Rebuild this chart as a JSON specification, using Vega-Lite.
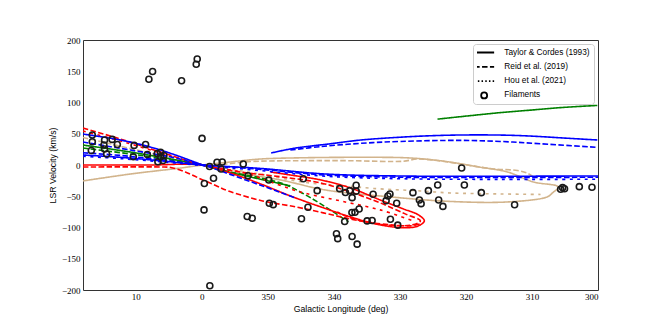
{
  "$schema": "https://vega.github.io/schema/vega-lite/v6.json",
  "width": 515,
  "height": 250,
  "autosize": {"type": "none"},
  "padding": {"left": 83, "top": 40, "right": 66, "bottom": 42},
  "background": "white",
  "config": {
    "view": {"stroke": "#333", "strokeWidth": 1},
    "axis": {
      "grid": false,
      "ticks": false,
      "domain": false,
      "labelFont": "Liberation Serif",
      "labelFontSize": 9,
      "labelColor": "#000",
      "titleFont": "Liberation Sans",
      "titleFontSize": 8.7,
      "titleFontWeight": "normal",
      "titleColor": "#000"
    },
    "legend": {
      "title": null,
      "orient": "top-right",
      "offset": 4,
      "fillColor": "white",
      "strokeColor": "#cccccc",
      "cornerRadius": 3,
      "padding": 4,
      "labelFont": "Liberation Sans",
      "labelFontSize": 8.3,
      "labelColor": "#000",
      "rowPadding": 4.3,
      "clipHeight": 9,
      "symbolSize": 36,
      "symbolStrokeColor": "black",
      "symbolStrokeWidth": 1.8,
      "symbolOffset": 3,
      "labelOffset": 16
    }
  },
  "datasets": {
    "lines": [
      {"s":"T1","a":"tan","m":"TC","i":0,"l":18,"v":-25.5},
      {"s":"T1","a":"tan","m":"TC","i":1,"l":10.8,"v":-14.4},
      {"s":"T1","a":"tan","m":"TC","i":2,"l":3.2,"v":-4.8},
      {"s":"T1","a":"tan","m":"TC","i":3,"l":-0.1,"v":0},
      {"s":"T1","a":"tan","m":"TC","i":4,"l":-4.3,"v":4.8},
      {"s":"T1","a":"tan","m":"TC","i":5,"l":-8.9,"v":9.6},
      {"s":"T1","a":"tan","m":"TC","i":6,"l":-14.9,"v":11.5},
      {"s":"T1","a":"tan","m":"TC","i":7,"l":-24,"v":12.3},
      {"s":"T1","a":"tan","m":"TC","i":8,"l":-31.6,"v":11.2},
      {"s":"T1","a":"tan","m":"TC","i":9,"l":-37.2,"v":5.3},
      {"s":"T1","a":"tan","m":"TC","i":10,"l":-41.7,"v":-2.7},
      {"s":"T1","a":"tan","m":"TC","i":11,"l":-46.3,"v":-11.2},
      {"s":"T1","a":"tan","m":"TC","i":12,"l":-50.2,"v":-27.1},
      {"s":"T1","a":"tan","m":"TC","i":13,"l":-54,"v":-35.1},
      {"s":"T1","a":"tan","m":"TC","i":14,"l":-53.1,"v":-44.7},
      {"s":"T1","a":"tan","m":"TC","i":15,"l":-52.3,"v":-51.1},
      {"s":"T1","a":"tan","m":"TC","i":16,"l":-46.3,"v":-59.1},
      {"s":"T1","a":"tan","m":"TC","i":17,"l":-37.6,"v":-58.3},
      {"s":"T1","a":"tan","m":"TC","i":18,"l":-28.6,"v":-51.1},
      {"s":"T1","a":"tan","m":"TC","i":19,"l":-18.7,"v":-39.9},
      {"s":"T1","a":"tan","m":"TC","i":20,"l":-11.9,"v":-23.9},
      {"s":"T1","a":"tan","m":"TC","i":21,"l":-4.6,"v":-11.2},

      {"s":"T2","a":"tan","m":"R","i":0,"l":18,"v":44},
      {"s":"T2","a":"tan","m":"R","i":1,"l":9,"v":22},
      {"s":"T2","a":"tan","m":"R","i":2,"l":-0.1,"v":0},
      {"s":"T2","a":"tan","m":"R","i":3,"l":-7.4,"v":5.6},
      {"s":"T2","a":"tan","m":"R","i":4,"l":-14.9,"v":6.9},
      {"s":"T2","a":"tan","m":"R","i":5,"l":-22.5,"v":6.9},
      {"s":"T2","a":"tan","m":"R","i":6,"l":-30.5,"v":6},
      {"s":"T2","a":"tan","m":"R","i":7,"l":-32.5,"v":9.5},
      {"s":"T2","a":"tan","m":"R","i":8,"l":-35,"v":8},
      {"s":"T2","a":"tan","m":"R","i":9,"l":-39.2,"v":1.6},
      {"s":"T2","a":"tan","m":"R","i":10,"l":-44.2,"v":-6.4},
      {"s":"T2","a":"tan","m":"R","i":11,"l":-47.8,"v":-8.8},
      {"s":"T2","a":"tan","m":"R","i":12,"l":-49.4,"v":-13.6},
      {"s":"T2","a":"tan","m":"R","i":13,"l":-50.2,"v":-19.2},

      {"s":"T3","a":"tan","m":"H","i":0,"l":-0.1,"v":0},
      {"s":"T3","a":"tan","m":"H","i":1,"l":-5.1,"v":-8},
      {"s":"T3","a":"tan","m":"H","i":2,"l":-9.6,"v":-16},
      {"s":"T3","a":"tan","m":"H","i":3,"l":-15.7,"v":-27.9},
      {"s":"T3","a":"tan","m":"H","i":4,"l":-21,"v":-32.7},
      {"s":"T3","a":"tan","m":"H","i":5,"l":-26,"v":-37.5},
      {"s":"T3","a":"tan","m":"H","i":6,"l":-33.1,"v":-41.5},
      {"s":"T3","a":"tan","m":"H","i":7,"l":-37.6,"v":-44.7},
      {"s":"T3","a":"tan","m":"H","i":8,"l":-45.2,"v":-46.3},
      {"s":"T3","a":"tan","m":"H","i":9,"l":-51.3,"v":-47.1},

      {"s":"G1","a":"green","m":"TC","i":0,"l":-35.7,"v":73.4},
      {"s":"G1","a":"green","m":"TC","i":1,"l":-40.7,"v":79},
      {"s":"G1","a":"green","m":"TC","i":2,"l":-45.2,"v":83.8},
      {"s":"G1","a":"green","m":"TC","i":3,"l":-49.8,"v":87.8},
      {"s":"G1","a":"green","m":"TC","i":4,"l":-54.3,"v":91.8},
      {"s":"G1","a":"green","m":"TC","i":5,"l":-59.9,"v":95.3},

      {"s":"G2","a":"green","m":"TC","i":0,"l":18,"v":31.9},
      {"s":"G2","a":"green","m":"TC","i":1,"l":10.8,"v":20.7},
      {"s":"G2","a":"green","m":"TC","i":2,"l":4.7,"v":9.6},
      {"s":"G2","a":"green","m":"TC","i":3,"l":-0.1,"v":0},
      {"s":"G2","a":"green","m":"TC","i":4,"l":-2.8,"v":-8},
      {"s":"G2","a":"green","m":"TC","i":5,"l":-7.4,"v":-19.2},
      {"s":"G2","a":"green","m":"TC","i":6,"l":-13.4,"v":-33.5},

      {"s":"G3","a":"green","m":"R","i":0,"l":18,"v":27.1},
      {"s":"G3","a":"green","m":"R","i":1,"l":10.8,"v":17.6},
      {"s":"G3","a":"green","m":"R","i":2,"l":4.7,"v":8},
      {"s":"G3","a":"green","m":"R","i":3,"l":-0.1,"v":0},
      {"s":"G3","a":"green","m":"R","i":4,"l":-4.3,"v":-11.2},
      {"s":"G3","a":"green","m":"R","i":5,"l":-8.9,"v":-20.7},
      {"s":"G3","a":"green","m":"R","i":6,"l":-12.4,"v":-30.3},
      {"s":"G3","a":"green","m":"R","i":7,"l":-14.9,"v":-43.1},
      {"s":"G3","a":"green","m":"R","i":8,"l":-18,"v":-62.2},
      {"s":"G3","a":"green","m":"R","i":9,"l":-22.2,"v":-91},

      {"s":"R1","a":"red","m":"TC","i":0,"l":18,"v":0},
      {"s":"R1","a":"red","m":"TC","i":1,"l":7.8,"v":0},
      {"s":"R1","a":"red","m":"TC","i":2,"l":-0.1,"v":0},
      {"s":"R1","a":"red","m":"TC","i":3,"l":-4.3,"v":-12.8},
      {"s":"R1","a":"red","m":"TC","i":4,"l":-8.9,"v":-30.3},
      {"s":"R1","a":"red","m":"TC","i":5,"l":-13.4,"v":-49.5},
      {"s":"R1","a":"red","m":"TC","i":6,"l":-18,"v":-67},
      {"s":"R1","a":"red","m":"TC","i":7,"l":-22.5,"v":-83},
      {"s":"R1","a":"red","m":"TC","i":8,"l":-27,"v":-95.8},
      {"s":"R1","a":"red","m":"TC","i":9,"l":-30.8,"v":-100.5},
      {"s":"R1","a":"red","m":"TC","i":10,"l":-32.8,"v":-97.4},
      {"s":"R1","a":"red","m":"TC","i":11,"l":-33.7,"v":-89.4},
      {"s":"R1","a":"red","m":"TC","i":12,"l":-32.8,"v":-79.8},
      {"s":"R1","a":"red","m":"TC","i":13,"l":-30.5,"v":-70.2},
      {"s":"R1","a":"red","m":"TC","i":14,"l":-27,"v":-55.9},
      {"s":"R1","a":"red","m":"TC","i":15,"l":-22.5,"v":-36.7},
      {"s":"R1","a":"red","m":"TC","i":16,"l":-18,"v":-23.9},
      {"s":"R1","a":"red","m":"TC","i":17,"l":-13.4,"v":-16},
      {"s":"R1","a":"red","m":"TC","i":18,"l":-10.4,"v":-11.2},

      {"s":"R2","a":"red","m":"R","i":0,"l":18,"v":59.1},
      {"s":"R2","a":"red","m":"R","i":1,"l":12.3,"v":41.5},
      {"s":"R2","a":"red","m":"R","i":2,"l":6.25,"v":20.7},
      {"s":"R2","a":"red","m":"R","i":3,"l":-0.1,"v":0},
      {"s":"R2","a":"red","m":"R","i":4,"l":-5.9,"v":-11.2},
      {"s":"R2","a":"red","m":"R","i":5,"l":-12.2,"v":-19.2},
      {"s":"R2","a":"red","m":"R","i":6,"l":-18,"v":-28.7},
      {"s":"R2","a":"red","m":"R","i":7,"l":-22.5,"v":-43.1},
      {"s":"R2","a":"red","m":"R","i":8,"l":-27,"v":-60.6},
      {"s":"R2","a":"red","m":"R","i":9,"l":-30.8,"v":-78.2},
      {"s":"R2","a":"red","m":"R","i":10,"l":-33.1,"v":-89.4},
      {"s":"R2","a":"red","m":"R","i":11,"l":-31.9,"v":-95.8},
      {"s":"R2","a":"red","m":"R","i":12,"l":-28.6,"v":-96.6},
      {"s":"R2","a":"red","m":"R","i":13,"l":-24.8,"v":-91},
      {"s":"R2","a":"red","m":"R","i":14,"l":-21.7,"v":-81.4},
      {"s":"R2","a":"red","m":"R","i":15,"l":-20.5,"v":-75},

      {"s":"R3","a":"red","m":"R","i":0,"l":18,"v":-3.2},
      {"s":"R3","a":"red","m":"R","i":1,"l":6.25,"v":-3.2},
      {"s":"R3","a":"red","m":"R","i":2,"l":4.7,"v":-4},
      {"s":"R3","a":"red","m":"R","i":3,"l":2.5,"v":-11.2},
      {"s":"R3","a":"red","m":"R","i":4,"l":0.2,"v":-22.3},
      {"s":"R3","a":"red","m":"R","i":5,"l":-2.1,"v":-32.7},
      {"s":"R3","a":"red","m":"R","i":6,"l":-4,"v":-41.5},
      {"s":"R3","a":"red","m":"R","i":7,"l":-9.2,"v":-57.5},
      {"s":"R3","a":"red","m":"R","i":8,"l":-14.2,"v":-67},
      {"s":"R3","a":"red","m":"R","i":9,"l":-18.4,"v":-76.6},
      {"s":"R3","a":"red","m":"R","i":10,"l":-21.7,"v":-84.6},
      {"s":"R3","a":"red","m":"R","i":11,"l":-24.8,"v":-91},
      {"s":"R3","a":"red","m":"R","i":12,"l":-28.6,"v":-95.8},
      {"s":"R3","a":"red","m":"R","i":13,"l":-31.6,"v":-97.4},
      {"s":"R3","a":"red","m":"R","i":14,"l":-33.1,"v":-94.2},

      {"s":"R4","a":"red","m":"H","i":0,"l":18,"v":54.3},
      {"s":"R4","a":"red","m":"H","i":1,"l":12.3,"v":38.3},
      {"s":"R4","a":"red","m":"H","i":2,"l":6.25,"v":19.2},
      {"s":"R4","a":"red","m":"H","i":3,"l":-0.1,"v":0},
      {"s":"R4","a":"red","m":"H","i":4,"l":-3.6,"v":-6.4},
      {"s":"R4","a":"red","m":"H","i":5,"l":-7.1,"v":-14.4},
      {"s":"R4","a":"red","m":"H","i":6,"l":-10,"v":-25.5},
      {"s":"R4","a":"red","m":"H","i":7,"l":-14.9,"v":-43.1},
      {"s":"R4","a":"red","m":"H","i":8,"l":-21,"v":-57.5},
      {"s":"R4","a":"red","m":"H","i":9,"l":-27,"v":-71.8},
      {"s":"R4","a":"red","m":"H","i":10,"l":-32,"v":-89.4},

      {"s":"B1","a":"blue","m":"TC","i":0,"l":-10.5,"v":19.2},
      {"s":"B1","a":"blue","m":"TC","i":1,"l":-13.9,"v":26.6},
      {"s":"B1","a":"blue","m":"TC","i":2,"l":-19.5,"v":34},
      {"s":"B1","a":"blue","m":"TC","i":3,"l":-24,"v":39.9},
      {"s":"B1","a":"blue","m":"TC","i":4,"l":-30.1,"v":44.5},
      {"s":"B1","a":"blue","m":"TC","i":5,"l":-34.6,"v":46.8},
      {"s":"B1","a":"blue","m":"TC","i":6,"l":-39.2,"v":48},
      {"s":"B1","a":"blue","m":"TC","i":7,"l":-45.2,"v":47.9},
      {"s":"B1","a":"blue","m":"TC","i":8,"l":-49.8,"v":46.3},
      {"s":"B1","a":"blue","m":"TC","i":9,"l":-54.3,"v":43.5},
      {"s":"B1","a":"blue","m":"TC","i":10,"l":-59.9,"v":40},

      {"s":"B2","a":"blue","m":"R","i":0,"l":-13.4,"v":23.9},
      {"s":"B2","a":"blue","m":"R","i":1,"l":-18,"v":29.5},
      {"s":"B2","a":"blue","m":"R","i":2,"l":-24,"v":34.6},
      {"s":"B2","a":"blue","m":"R","i":3,"l":-30.1,"v":37.7},
      {"s":"B2","a":"blue","m":"R","i":4,"l":-39.2,"v":39.4},
      {"s":"B2","a":"blue","m":"R","i":5,"l":-45.2,"v":37.7},
      {"s":"B2","a":"blue","m":"R","i":6,"l":-51.3,"v":34},
      {"s":"B2","a":"blue","m":"R","i":7,"l":-59.9,"v":28.2},

      {"s":"B3","a":"blue","m":"TC","i":0,"l":18,"v":16},
      {"s":"B3","a":"blue","m":"TC","i":1,"l":12,"v":12},
      {"s":"B3","a":"blue","m":"TC","i":2,"l":6,"v":6.5},
      {"s":"B3","a":"blue","m":"TC","i":3,"l":-0.1,"v":0},
      {"s":"B3","a":"blue","m":"TC","i":4,"l":-9,"v":-5.6},
      {"s":"B3","a":"blue","m":"TC","i":5,"l":-18.7,"v":-14.4},
      {"s":"B3","a":"blue","m":"TC","i":6,"l":-30.1,"v":-17.6},
      {"s":"B3","a":"blue","m":"TC","i":7,"l":-45,"v":-18},
      {"s":"B3","a":"blue","m":"TC","i":8,"l":-60,"v":-17.5},

      {"s":"B4","a":"blue","m":"R","i":0,"l":18,"v":19.5},
      {"s":"B4","a":"blue","m":"R","i":1,"l":12,"v":15},
      {"s":"B4","a":"blue","m":"R","i":2,"l":6,"v":8},
      {"s":"B4","a":"blue","m":"R","i":3,"l":-0.1,"v":0.5},
      {"s":"B4","a":"blue","m":"R","i":4,"l":-9,"v":-7},
      {"s":"B4","a":"blue","m":"R","i":5,"l":-18.7,"v":-16},
      {"s":"B4","a":"blue","m":"R","i":6,"l":-30.1,"v":-19.6},
      {"s":"B4","a":"blue","m":"R","i":7,"l":-45,"v":-20},
      {"s":"B4","a":"blue","m":"R","i":8,"l":-60,"v":-19.6},

      {"s":"B5","a":"blue","m":"H","i":0,"l":18,"v":14},
      {"s":"B5","a":"blue","m":"H","i":1,"l":12,"v":10},
      {"s":"B5","a":"blue","m":"H","i":2,"l":6,"v":5},
      {"s":"B5","a":"blue","m":"H","i":3,"l":-0.1,"v":-1},
      {"s":"B5","a":"blue","m":"H","i":4,"l":-9,"v":-9},
      {"s":"B5","a":"blue","m":"H","i":5,"l":-18.7,"v":-18},
      {"s":"B5","a":"blue","m":"H","i":6,"l":-30.1,"v":-22},
      {"s":"B5","a":"blue","m":"H","i":7,"l":-45,"v":-23},
      {"s":"B5","a":"blue","m":"H","i":8,"l":-60,"v":-22.8},

      {"s":"B6","a":"blue","m":"TC","i":0,"l":18,"v":49.5},
      {"s":"B6","a":"blue","m":"TC","i":1,"l":12.3,"v":39.9},
      {"s":"B6","a":"blue","m":"TC","i":2,"l":7.8,"v":28.7},
      {"s":"B6","a":"blue","m":"TC","i":3,"l":4,"v":16},
      {"s":"B6","a":"blue","m":"TC","i":4,"l":-0.1,"v":0},

      {"s":"B7","a":"blue","m":"R","i":0,"l":18,"v":36.7},
      {"s":"B7","a":"blue","m":"R","i":1,"l":10.8,"v":23.9},
      {"s":"B7","a":"blue","m":"R","i":2,"l":4.7,"v":12.8},
      {"s":"B7","a":"blue","m":"R","i":3,"l":-0.1,"v":0},
      {"s":"B7","a":"blue","m":"R","i":4,"l":-2.5,"v":-8},
      {"s":"B7","a":"blue","m":"R","i":5,"l":-4.3,"v":-15},
      {"s":"B7","a":"blue","m":"R","i":6,"l":-8.9,"v":-32.4},
      {"s":"B7","a":"blue","m":"R","i":7,"l":-14.2,"v":-52.7}
    ],
    "fil": [
      {"k":"Filaments","l":16.59,"v":47.9},
      {"k":"Filaments","l":16.59,"v":37.2},
      {"k":"Filaments","l":16.74,"v":23.1},
      {"k":"Filaments","l":14.73,"v":39.9},
      {"k":"Filaments","l":14.83,"v":31.9},
      {"k":"Filaments","l":14.73,"v":25.5},
      {"k":"Filaments","l":14.42,"v":17.6},
      {"k":"Filaments","l":13.59,"v":41.0},
      {"k":"Filaments","l":12.8,"v":32.7},
      {"k":"Filaments","l":10.26,"v":31.4},
      {"k":"Filaments","l":8.52,"v":32.7},
      {"k":"Filaments","l":10.38,"v":13.2},
      {"k":"Filaments","l":8.26,"v":16.8},
      {"k":"Filaments","l":6.75,"v":18.4},
      {"k":"Filaments","l":6.25,"v":20.3},
      {"k":"Filaments","l":5.75,"v":15.2},
      {"k":"Filaments","l":6.25,"v":13.2},
      {"k":"Filaments","l":6.66,"v":5.3},
      {"k":"Filaments","l":5.87,"v":7.2},
      {"k":"Filaments","l":-0.03,"v":42.6},
      {"k":"Filaments","l":-1.17,"v":-2.4},
      {"k":"Filaments","l":-2.3,"v":4.3},
      {"k":"Filaments","l":-3.09,"v":4.8},
      {"k":"Filaments","l":-2.91,"v":-6.4},
      {"k":"Filaments","l":-1.77,"v":-21.2},
      {"k":"Filaments","l":-0.38,"v":-29.5},
      {"k":"Filaments","l":-0.33,"v":-71.8},
      {"k":"Filaments","l":-1.21,"v":-193.1},
      {"k":"Filaments","l":-6.27,"v":1.6},
      {"k":"Filaments","l":-6.99,"v":-17.2},
      {"k":"Filaments","l":-10.14,"v":-23.9},
      {"k":"Filaments","l":-10.22,"v":-61.1},
      {"k":"Filaments","l":-10.81,"v":-63.4},
      {"k":"Filaments","l":-6.87,"v":-82.5},
      {"k":"Filaments","l":-7.63,"v":-85.1},
      {"k":"Filaments","l":-15.36,"v":-21.9},
      {"k":"Filaments","l":-17.47,"v":-41.0},
      {"k":"Filaments","l":-16.07,"v":-67.5},
      {"k":"Filaments","l":-15.09,"v":-85.9},
      {"k":"Filaments","l":-20.87,"v":-37.8},
      {"k":"Filaments","l":-21.75,"v":-43.9},
      {"k":"Filaments","l":-22.4,"v":-41.0},
      {"k":"Filaments","l":-23.37,"v":-32.4},
      {"k":"Filaments","l":-23.37,"v":-41.8},
      {"k":"Filaments","l":-22.76,"v":-52.2},
      {"k":"Filaments","l":-23.82,"v":-70.5},
      {"k":"Filaments","l":-23.19,"v":-75.5},
      {"k":"Filaments","l":-22.73,"v":-76.1},
      {"k":"Filaments","l":-21.63,"v":-90.5},
      {"k":"Filaments","l":-20.39,"v":-110.1},
      {"k":"Filaments","l":-20.58,"v":-117.8},
      {"k":"Filaments","l":-22.76,"v":-114.4},
      {"k":"Filaments","l":-23.52,"v":-126.6},
      {"k":"Filaments","l":-25.03,"v":-89.4},
      {"k":"Filaments","l":-25.79,"v":-88.9},
      {"k":"Filaments","l":-25.94,"v":-46.8},
      {"k":"Filaments","l":-27.91,"v":-57.0},
      {"k":"Filaments","l":-28.18,"v":-49.5},
      {"k":"Filaments","l":-28.49,"v":-46.3},
      {"k":"Filaments","l":-28.56,"v":-86.7},
      {"k":"Filaments","l":-29.51,"v":-61.1},
      {"k":"Filaments","l":-29.67,"v":-96.2},
      {"k":"Filaments","l":-31.97,"v":-44.2},
      {"k":"Filaments","l":-32.95,"v":-55.9},
      {"k":"Filaments","l":-33.21,"v":-61.8},
      {"k":"Filaments","l":-34.31,"v":-41.0},
      {"k":"Filaments","l":-35.72,"v":-31.9},
      {"k":"Filaments","l":-35.87,"v":-55.9},
      {"k":"Filaments","l":-36.51,"v":-66.2},
      {"k":"Filaments","l":-39.35,"v":-4.8},
      {"k":"Filaments","l":-39.76,"v":-31.9},
      {"k":"Filaments","l":-42.33,"v":-44.2},
      {"k":"Filaments","l":-47.37,"v":-63.5},
      {"k":"Filaments","l":-54.34,"v":-38.8},
      {"k":"Filaments","l":-54.64,"v":-36.2},
      {"k":"Filaments","l":-54.93,"v":-38.1},
      {"k":"Filaments","l":-57.17,"v":-34.6},
      {"k":"Filaments","l":-59.09,"v":-35.6},
      {"k":"Filaments","l":8.02,"v":137.3},
      {"k":"Filaments","l":7.46,"v":149.5},
      {"k":"Filaments","l":3.07,"v":134.9},
      {"k":"Filaments","l":0.7,"v":169.7},
      {"k":"Filaments","l":0.85,"v":161.2}
    ]
  },
  "encoding": {
    "x": {
      "field": "l",
      "type": "quantitative",
      "scale": {"domain": [-60, 18], "reverse": true, "nice": false, "zero": false},
      "axis": {
        "values": [10, 0, -10, -20, -30, -40, -50, -60],
        "labelExpr": "datum.value < 0 ? format(datum.value + 360, 'd') : format(datum.value, 'd')",
        "labelPadding": 2,
        "title": "Galactic Longitude (deg)",
        "titleX": 257.5,
        "titleY": 21,
        "titleAlign": "center",
        "titleBaseline": "alphabetic"
      }
    },
    "y": {
      "field": "v",
      "type": "quantitative",
      "scale": {"domain": [-200, 200], "nice": false, "zero": false},
      "axis": {
        "values": [-200, -150, -100, -50, 0, 50, 100, 150, 200],
        "labelPadding": 3,
        "title": "LSR Velocity (km/s)",
        "titleAngle": 270,
        "titleX": -28,
        "titleY": 125,
        "titleAlign": "center",
        "titleBaseline": "alphabetic"
      }
    }
  },
  "layer": [
    {
      "data": {"name": "lines"},
      "mark": {"type": "line", "interpolate": "catmull-rom", "strokeCap": "butt", "clip": true},
      "encoding": {
        "color": {
          "field": "a",
          "type": "nominal",
          "scale": {"domain": ["red", "blue", "green", "tan"], "range": ["#ff0000", "#0000ff", "#008000", "#d2b48c"]},
          "legend": null
        },
        "strokeDash": {
          "field": "m",
          "type": "nominal",
          "scale": {"domain": ["TC", "R", "H"], "range": [[1, 0], [5.5, 2.4], [3, 4.5]]},
          "legend": null
        },
        "strokeWidth": {
          "field": "m",
          "type": "ordinal",
          "scale": {"domain": ["TC", "R", "H"], "range": [1.6, 1.6, 3]},
          "legend": null
        },
        "detail": {"field": "s"},
        "order": {"field": "i", "type": "quantitative"}
      }
    },
    {
      "data": {"name": "fil"},
      "mark": {"type": "point", "filled": false, "size": 36, "strokeWidth": 1.6, "color": "#1a1a1a", "opacity": 1, "clip": true},
      "encoding": {
        "shape": {
          "field": "k",
          "type": "nominal",
          "scale": {
            "domain": ["Taylor & Cordes (1993)", "Reid et al. (2019)", "Hou et al. (2021)", "Filaments"],
            "range": [
              "M-3.33,0H3.33",
              "M-3.33,0H-1.5M-0.7,0H1.13M1.93,0H3.33",
              "M-3.33,0H-2.83M-2.1,0H-1.6M-0.87,0H-0.37M0.37,0H0.87M1.6,0H2.1M2.83,0H3.33",
              "circle"
            ]
          },
          "legend": {}
        }
      }
    }
  ]
}
